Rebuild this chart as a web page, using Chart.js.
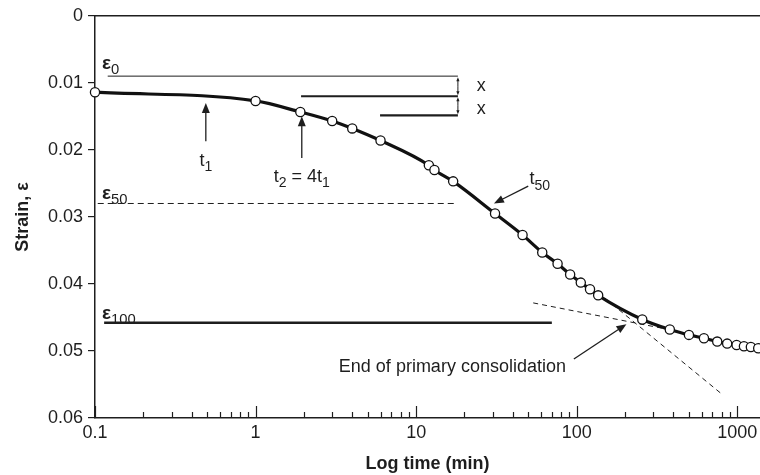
<!DOCTYPE html>
<html>
<head>
<meta charset="utf-8">
<script src="https://cdn.jsdelivr.net/npm/chart.js@4.4.0/dist/chart.umd.min.js"></script>
<style>
  html, body { margin: 0; padding: 0; background: #fff; }
  #wrap { width: 760px; height: 475px; }
</style>
</head>
<body>
<div id="wrap"><canvas id="consolChart" width="760" height="475"></canvas></div>
<script>
// time (min) and strain
const times = [0.1, 1, 1.9, 3, 4, 6, 12, 13, 17, 31, 46, 61, 76, 91, 106, 121, 136,
    256, 380, 500, 620, 750, 865, 990, 1100, 1215, 1350];
const strain = [0.0114, 0.0127, 0.01435, 0.0157, 0.0168, 0.0186, 0.0223, 0.0230, 0.0247,
    0.0295, 0.0327, 0.0353, 0.0370, 0.0386, 0.0398, 0.0408, 0.0417,
    0.0453, 0.0468, 0.0476, 0.0481, 0.0486, 0.0489, 0.0491, 0.0493, 0.0494, 0.0496];

// horizontal construction lines: eps0, step 1, step 2, eps50, eps100
const levelStrain = [0.0090, 0.0120, 0.01484, 0.0280, 0.0458];
const levelFrom = [0.12, 1.92, 5.96, 0.104, 0.114];
const levelTo = [18.2, 18.2, 18.2, 18, 70];

// tangent lines for end of primary consolidation
const tangentA = [[53.6, 0.04283], [344, 0.04663]];
const tangentB = [[150, 0.04214], [787, 0.05628]];

const xTicks = [0.1, 1, 10, 100, 1000];
const yTicks = [0, 0.01, 0.02, 0.03, 0.04, 0.05, 0.06];

const ink = '#1e1e1e';
const font = '"Liberation Sans", Arial, sans-serif';

function pts(xa, ya) {
    return xa.map((x, i) => ({ x: x, y: ya[i] }));
}

function levelLine(i, width, dash) {
    return {
        data: [{ x: levelFrom[i], y: levelStrain[i] }, { x: levelTo[i], y: levelStrain[i] }],
        borderColor: ink,
        borderWidth: width,
        borderDash: dash || [],
        pointRadius: 0,
        tension: 0
    };
}

function tangent(p) {
    return {
        data: p.map(q => ({ x: q[0], y: q[1] })),
        borderColor: ink,
        borderWidth: 1,
        borderDash: [5, 4],
        pointRadius: 0,
        tension: 0
    };
}

function arrow(ctx, x1, y1, x2, y2, head) {
    const a = Math.atan2(y2 - y1, x2 - x1);
    ctx.beginPath();
    ctx.moveTo(x1, y1);
    ctx.lineTo(x2 - Math.cos(a) * head * 0.6, y2 - Math.sin(a) * head * 0.6);
    ctx.stroke();
    ctx.beginPath();
    ctx.moveTo(x2, y2);
    ctx.lineTo(x2 - head * Math.cos(a) + head * 0.4 * Math.sin(a), y2 - head * Math.sin(a) - head * 0.4 * Math.cos(a));
    ctx.lineTo(x2 - head * Math.cos(a) - head * 0.4 * Math.sin(a), y2 - head * Math.sin(a) + head * 0.4 * Math.cos(a));
    ctx.closePath();
    ctx.fill();
}

// draws pieces of text, each [text, isSubscript], starting at x (left) on a middle line y
function richText(ctx, parts, x, y, size, bold) {
    let cx = x;
    parts.forEach(p => {
        const sub = p[1];
        ctx.font = (bold && !sub ? 'bold ' : '') + (sub ? size * 0.78 : size) + 'px ' + font;
        ctx.fillText(p[0], cx, sub ? y + size * 0.35 : y);
        cx += ctx.measureText(p[0]).width;
    });
    return cx - x;
}

function textWidth(ctx, parts, size, bold) {
    let w = 0;
    parts.forEach(p => {
        ctx.font = (bold && !p[1] ? 'bold ' : '') + (p[1] ? size * 0.78 : size) + 'px ' + font;
        w += ctx.measureText(p[0]).width;
    });
    return w;
}

const decorations = {
    id: 'decorations',
    afterDatasetsDraw(chart) {
        const ctx = chart.ctx;
        const xs = chart.scales.x, ys = chart.scales.y;
        const area = chart.chartArea;
        const X = v => xs.getPixelForValue(v);
        const Y = v => ys.getPixelForValue(v);
        ctx.save();
        ctx.strokeStyle = ink;
        ctx.fillStyle = ink;

        // top frame line
        ctx.lineWidth = 1.5;
        ctx.beginPath();
        ctx.moveTo(area.left, area.top);
        ctx.lineTo(area.right, area.top);
        ctx.stroke();

        // inward log ticks on the time axis
        ctx.lineWidth = 1.2;
        xTicks.forEach(d => {
            for (let m = 1; m <= 9; m++) {
                const v = d * m;
                if (v < xs.min || v > xs.max) continue;
                const len = m === 1 ? 12 : 6;
                const px = Math.round(X(v)) + 0.5;
                ctx.beginPath();
                ctx.moveTo(px, area.bottom);
                ctx.lineTo(px, area.bottom - len);
                ctx.stroke();
            }
        });

        // double arrows marking the two equal x steps
        ctx.lineWidth = 1;
        const dx = X(18.2);
        [[levelStrain[0], levelStrain[1]], [levelStrain[1], levelStrain[2]]].forEach(s => {
            const ya = Y(s[0]) + 1, yb = Y(s[1]) - 1, mid = (ya + yb) / 2;
            arrow(ctx, dx, mid, dx, ya, 4);
            arrow(ctx, dx, mid, dx, yb, 4);
        });
        ctx.textBaseline = 'middle';
        ctx.textAlign = 'left';
        richText(ctx, [['x', false]], X(25.6) - 5, Y(0.01053), 18);
        richText(ctx, [['x', false]], X(25.6) - 5, Y(0.0139), 18);

        // epsilon labels
        richText(ctx, [['ε', false], ['0', true]], X(0.1105), Y(0.0071), 19, true);
        richText(ctx, [['ε', false], ['50', true]], X(0.1105), Y(0.0265), 19, true);
        richText(ctx, [['ε', false], ['100', true]], X(0.1105), Y(0.0444), 19, true);

        // t1 and t2 arrows
        ctx.lineWidth = 1.3;
        arrow(ctx, X(0.49), Y(0.0187), X(0.49), Y(0.0130), 10);
        arrow(ctx, X(1.94), Y(0.0212), X(1.94), Y(0.0150), 10);
        const t1 = [['t', false], ['1', true]];
        richText(ctx, t1, X(0.49) - textWidth(ctx, t1, 18) / 2, Y(0.0217), 18);
        const t2 = [['t', false], ['2', true], [' = 4t', false], ['1', true]];
        richText(ctx, t2, X(1.94) - textWidth(ctx, t2, 18) / 2, Y(0.0240), 18);

        // t50 arrow
        arrow(ctx, X(49.9), Y(0.0254), X(30.5), Y(0.0280), 10);
        richText(ctx, [['t', false], ['50', true]], X(50.8), Y(0.0244), 18);

        // end of primary consolidation
        arrow(ctx, X(96), Y(0.0512), X(204), Y(0.0460), 10);
        ctx.font = '18px ' + font;
        ctx.textAlign = 'right';
        ctx.fillText('End of primary consolidation', X(85.7), Y(0.0524));
        ctx.restore();
    }
};

new Chart(document.getElementById('consolChart'), {
    type: 'line',
    data: {
        datasets: [
            {
                data: pts(times, strain),
                borderColor: '#111',
                borderWidth: 3.2,
                cubicInterpolationMode: 'monotone',
                pointRadius: 4.6,
                pointBackgroundColor: '#fff',
                pointBorderColor: '#111',
                pointBorderWidth: 1.3,
                clip: false
            },
            levelLine(0, 1),
            levelLine(1, 2.2),
            levelLine(2, 2.2),
            levelLine(3, 1, [6, 4]),
            levelLine(4, 2.4),
            tangent(tangentA),
            tangent(tangentB)
        ]
    },
    options: {
        responsive: false,
        animation: false,
        layout: { autoPadding: false, padding: { top: 14, right: 0, left: 0, bottom: 0 } },
        plugins: {
            legend: { display: false },
            tooltip: { enabled: false }
        },
        scales: {
            x: {
                type: 'logarithmic',
                min: 0.1,
                max: 1385,
                border: { display: true, color: ink, width: 1.5 },
                grid: { display: false, drawTicks: false },
                afterBuildTicks: scale => {
                    scale.ticks = xTicks.map(v => ({ value: v }));
                },
                ticks: {
                    autoSkip: false,
                    maxRotation: 0,
                    padding: 4,
                    color: ink,
                    font: { family: font, size: 18 },
                    callback: v => String(v)
                },
                title: {
                    display: true,
                    text: 'Log time (min)',
                    color: ink,
                    padding: { top: 8, bottom: 0 },
                    font: { family: font, size: 18, weight: 'bold' }
                },
                afterFit: scale => {
                    scale.height = 57;
                    scale.paddingLeft = 0;
                    scale.paddingRight = 0;
                }
            },
            y: {
                min: 0,
                max: 0.06,
                reverse: true,
                border: { display: true, color: ink, width: 1.5 },
                grid: { drawOnChartArea: false, tickLength: 7, color: ink, lineWidth: 1.2 },
                afterBuildTicks: scale => {
                    scale.ticks = yTicks.map(v => ({ value: v }));
                },
                ticks: {
                    padding: 5,
                    color: ink,
                    font: { family: font, size: 18 },
                    callback: v => String(Math.round(v * 100) / 100)
                },
                title: {
                    display: true,
                    text: 'Strain, ε',
                    color: ink,
                    padding: { top: 12, bottom: 0 },
                    font: { family: font, size: 18, weight: 'bold' }
                },
                afterFit: scale => { scale.width = 95; }
            }
        }
    },
    plugins: [decorations]
});
</script>
</body>
</html>
